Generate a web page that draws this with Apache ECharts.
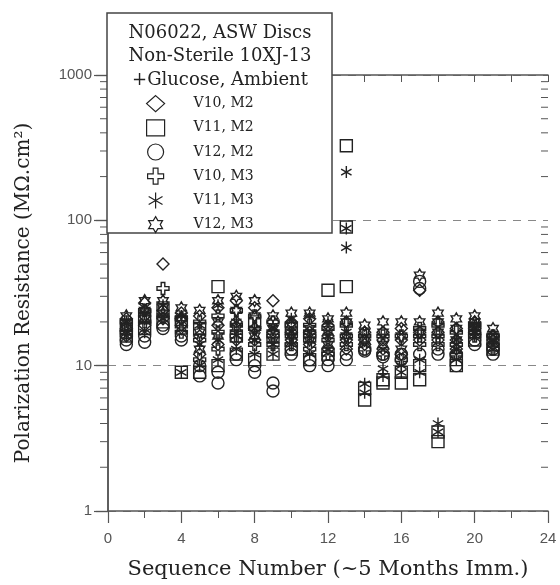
<!DOCTYPE html>
<html>
<head>
<meta charset="utf-8">
<script src="https://cdn.jsdelivr.net/npm/echarts@6/dist/echarts.min.js"></script>
<style>html,body{margin:0;padding:0;background:#fff}#c{width:560px;height:585px}</style>
</head>
<body>
<div id="c"></div>
<script>
// ---- data: [sequence number, polarization resistance] ----
var v10m2 = [[1,21],[1,18],[1,16],[2,27],[2,22],[2,19],[3,50],[3,24],[3,21],[4,23],[4,19],[4,21],[5,22],[5,12],[5,16],[6,25],[6,14],[6,19],[7,28],[7,20],[7,15],[8,25],[8,15],[8,18],[9,28],[9,17],[9,20],[10,20],[10,15],[10,17],[11,21],[11,14],[11,17],[12,19],[12,13],[12,16],[13,20],[13,15],[13,13],[14,17],[14,14],[14,15],[15,17],[15,13],[15,15],[16,18],[16,12],[16,15],[17,33],[17,17],[17,15],[18,20],[18,15],[18,17],[19,18],[19,13],[19,15],[20,20],[20,17],[20,18],[21,16],[21,14],[21,15]];
var v11m2 = [[1,19],[1,16],[2,22],[2,18],[3,25],[3,20],[4,20],[4,9],[5,18],[5,9],[6,35],[6,10],[7,16],[7,12],[8,20],[8,11],[9,16],[9,12],[10,18],[10,13],[11,16],[11,11],[12,33],[12,12],[13,326],[13,90],[13,35],[14,7],[14,5.8],[15,8],[15,7.6],[16,9],[16,7.6],[17,10],[17,8],[18,3.5],[18,3],[19,11],[19,10],[20,18],[20,15],[21,15],[21,13]];
var v12m2 = [[1,15],[1,14],[2,16],[2,14.5],[3,19],[3,18],[4,16],[4,15],[5,10],[5,8.5],[6,9],[6,7.6],[7,12],[7,11],[8,10],[8,9],[9,7.6],[9,6.7],[10,13],[10,12],[11,11],[11,10],[12,11],[12,10],[13,12],[13,11],[14,13],[14,12.6],[15,12],[15,11.5],[16,12],[16,11],[17,38],[17,34],[17,12],[18,13],[18,12],[19,12],[19,10],[20,15],[20,14],[21,13],[21,12]];
var v10m3 = [[1,20],[1,17],[2,24],[2,20],[3,34],[3,22],[4,21],[4,17],[5,20],[5,11],[5,15],[6,22],[6,13],[6,17],[7,24],[7,16],[7,19],[8,22],[8,14],[8,18],[9,20],[9,14],[9,16],[10,19],[10,14],[10,16],[11,19],[11,13],[11,16],[12,18],[12,12],[12,15],[13,19],[13,14],[13,16],[14,16],[14,13],[15,16],[15,12],[16,16],[16,11],[17,18],[17,14],[17,16],[18,19],[18,14],[18,16],[19,17],[19,12],[19,14],[20,19],[20,16],[21,16],[21,13]];
var v11m3 = [[1,20],[1,16],[2,23],[2,17],[3,26],[3,21],[4,22],[4,9],[5,19],[5,10],[5,14],[6,26],[6,11],[6,15],[7,20],[7,13],[7,16],[8,18],[8,12],[8,15],[9,18],[9,12],[9,14],[10,21],[10,14],[10,17],[11,22],[11,12],[11,16],[12,20],[12,13],[12,16],[13,215],[13,88],[13,65],[13,17],[14,7.5],[14,6.5],[15,9.5],[15,8.5],[16,10],[16,9],[17,11],[17,9],[18,4],[18,3.5],[19,13],[19,11],[19,15],[20,18],[20,16],[20,17],[21,15],[21,13]];
var v12m3 = [[1,22],[1,18],[1,19],[2,28],[2,21],[2,24],[3,28],[3,23],[3,25],[4,25],[4,18],[4,21],[5,24],[5,13],[5,17],[6,28],[6,16],[6,20],[7,30],[7,18],[7,24],[8,28],[8,16],[8,22],[9,22],[9,15],[9,18],[10,23],[10,16],[10,19],[11,23],[11,15],[11,18],[12,21],[12,14],[12,17],[13,23],[13,16],[13,20],[14,19],[14,15],[14,17],[15,20],[15,14],[15,17],[16,20],[16,13],[16,16],[17,42],[17,20],[17,17],[18,23],[18,17],[18,20],[19,21],[19,15],[19,18],[20,22],[20,18],[20,20],[21,18],[21,15],[21,16]];
var seriesNames = ['V10, M2','V11, M2','V12, M2','V10, M3','V11, M3','V12, M3'];
var boxLines = ['N06022, ASW Discs','Non-Sterile 10XJ-13','+Glucose, Ambient'];
var minorTickValues = [2,3,4,5,6,7,8,9,20,30,40,50,60,70,80,90,200,300,400,500,600,700,800,900];
var xTitle = 'Sequence Number (~5 Months Imm.)';
var yTitle = 'Polarization Resistance (MΩ.cm²)';

var SERIF = '"DejaVu Serif", "Liberation Serif", serif';
var SANS = '"Liberation Sans", Arial, sans-serif';
var INK = '#222';
var AX = '#555';

var symbols = [
  'diamond',
  'rect',
  'circle',
  'path://M35,0 L65,0 L65,35 L100,35 L100,65 L65,65 L65,100 L35,100 L35,65 L0,65 L0,35 L35,35 Z',
  'path://M50,0 L50,100 M6.7,25 L93.3,75 M6.7,75 L93.3,25',
  'path://M50,0 L64.43,25 L93.3,25 L78.87,50 L93.3,75 L64.43,75 L50,100 L35.57,75 L6.7,75 L21.13,50 L6.7,25 L35.57,25 Z'
];
var allData = [v10m2, v11m2, v12m2, v10m3, v11m3, v12m3];

var chart = echarts.init(document.getElementById('c'), null, {renderer: 'canvas'});

var series = allData.map(function (d, i) {
  return {
    name: seriesNames[i],
    type: 'scatter',
    data: d,
    symbol: symbols[i],
    symbolSize: 12,
    symbolKeepAspect: true,
    itemStyle: {color: 'rgba(0,0,0,0)', borderColor: INK, borderWidth: 1.4, opacity: 1},
    emphasis: {disabled: true},
    z: 3
  };
});

series.push({
  type: 'custom',
  name: 'minorTicks',
  xAxisIndex: 0,
  yAxisIndex: 0,
  silent: true,
  data: minorTickValues,
  renderItem: function (params, api) {
    var cs = params.coordSys;
    var p = api.coord([0, api.value(0)]);
    var st = {stroke: AX, lineWidth: 1};
    return {
      type: 'group',
      children: [
        {type: 'line', shape: {x1: cs.x - 8, y1: p[1], x2: cs.x, y2: p[1]}, style: st},
        {type: 'line', shape: {x1: cs.x + cs.width - 7, y1: p[1], x2: cs.x + cs.width, y2: p[1]}, style: st}
      ]
    };
  },
  encode: {y: 0},
  z: 1
});

var option = {
  backgroundColor: '#fff',
  animation: false,
  grid: {left: 108, top: 75, width: 440, height: 439, containLabel: false},
  xAxis: [{
    type: 'value', min: 0, max: 24, interval: 4, position: 'bottom',
    axisLine: {show: true, lineStyle: {color: AX, width: 1.5}},
    axisTick: {show: true, inside: false, length: 12, lineStyle: {color: AX, width: 1.2}},
    minorTick: {show: true, splitNumber: 2, length: 7, lineStyle: {color: AX, width: 1}},
    axisLabel: {color: '#555', fontFamily: SANS, fontSize: 15, margin: 20},
    splitLine: {show: false},
    name: xTitle, nameLocation: 'middle', nameGap: 48,
    nameTextStyle: {color: INK, fontFamily: SERIF, fontSize: 21}
  }, {
    type: 'value', min: 0, max: 24, interval: 2, position: 'top',
    axisLine: {show: true, onZero: false, lineStyle: {color: AX, width: 1.5}},
    axisTick: {show: true, inside: true, length: 7, lineStyle: {color: AX, width: 1}},
    axisLabel: {show: false},
    splitLine: {show: false}
  }],
  yAxis: [{
    type: 'log', logBase: 10, min: 1, max: 1000, position: 'left',
    axisLine: {show: true, lineStyle: {color: AX, width: 1.5}},
    axisTick: {show: true, inside: false, length: 14, lineStyle: {color: AX, width: 1.2}},
    axisLabel: {color: '#555', fontFamily: SANS, fontSize: 15, margin: 16,
      formatter: function (v) { return String(Math.round(v)); }},
    splitLine: {show: true, lineStyle: {color: '#888', type: [8, 7], width: 1}},
    name: yTitle, nameLocation: 'middle', nameGap: 74,
    nameTextStyle: {color: INK, fontFamily: SERIF, fontSize: 20}
  }, {
    type: 'log', logBase: 10, min: 1, max: 1000, position: 'right',
    axisLine: {show: true, lineStyle: {color: AX, width: 1.5}},
    axisTick: {show: true, inside: true, length: 12, lineStyle: {color: AX, width: 1.2}},
    axisLabel: {show: false},
    splitLine: {show: false}
  }],
  legend: {
    orient: 'vertical', left: 141, top: 90,
    itemWidth: 18, itemHeight: 16, itemGap: 7,
    data: seriesNames,
    selectedMode: false,
    itemStyle: {borderWidth: 1.2},
    textStyle: {color: INK, fontFamily: SERIF, fontSize: 14, padding: [0, 0, 0, 24]},
    z: 20
  },
  graphic: [{
    type: 'rect', z: 10, silent: true,
    shape: {x: 107, y: 13, width: 225, height: 220},
    style: {fill: '#fff', stroke: '#444', lineWidth: 1.5}
  }].concat(boxLines.map(function (t, i) {
    return {
      type: 'text', z: 11, silent: true,
      x: 220, y: 33 + i * 23.5,
      style: {text: t, fill: INK, font: '18px ' + SERIF, align: 'center', verticalAlign: 'middle'}
    };
  })),
  series: series
};
chart.setOption(option);
</script>
</body>
</html>
